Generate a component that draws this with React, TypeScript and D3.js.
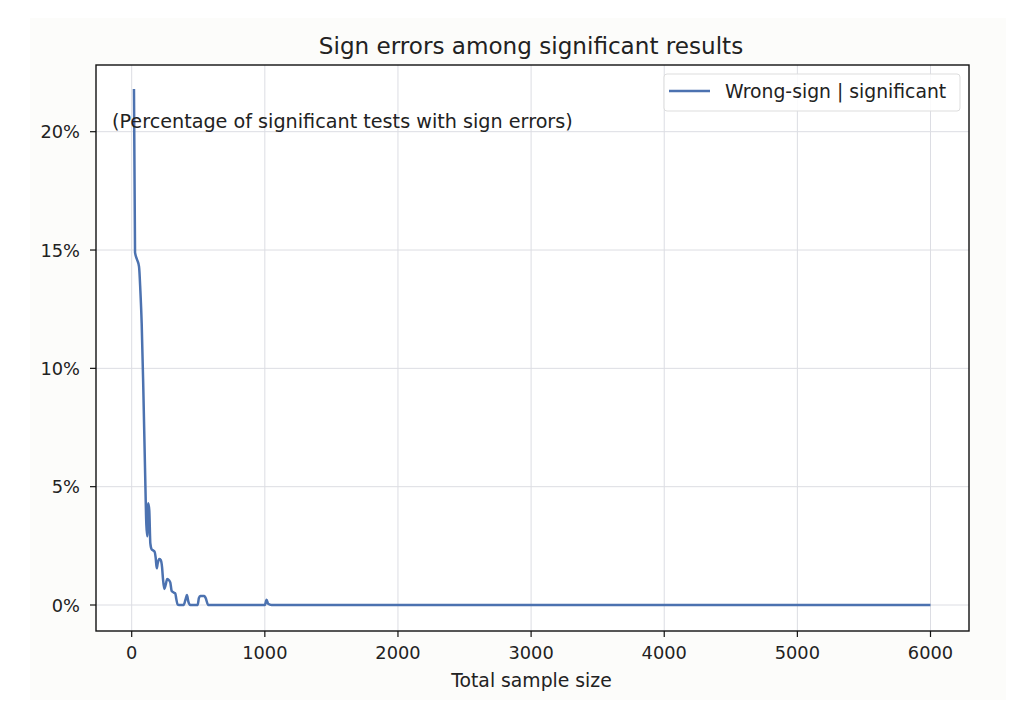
import * as d3 from 'd3';

// Total sample size (x) and share of significant tests with wrong sign (%)
const sampleSizes = [
  17, 25, 40, 55, 65, 75, 87, 100, 110, 117, 124, 132, 140, 150, 162, 172, 180, 188, 195, 207,
  218, 228, 235, 245, 255, 267, 280, 290, 300, 310, 317, 327, 335, 345, 355, 370, 390, 405,
  415, 425, 440, 470, 495, 505, 515, 545, 555, 575, 975, 1000, 1013, 1025, 1050, 6000,
];
const wrongSignPct = [
  21.8, 14.9, 14.6, 14.3, 13.3, 11.9, 9.2, 5.8, 3.4, 2.9, 4.3, 4.0, 2.6, 2.35, 2.3, 2.25, 2.0,
  1.55, 1.75, 1.94, 1.9, 1.6, 1.1, 0.68, 0.85, 1.1, 1.05, 0.95, 0.6, 0.55, 0.52, 0.5, 0.25,
  0.02, 0, 0, 0, 0.25, 0.42, 0.15, 0, 0, 0, 0.3, 0.38, 0.38, 0.3, 0, 0, 0, 0.22, 0.05, 0, 0,
];

const xTicks = [0, 1000, 2000, 3000, 4000, 5000, 6000];
const yTicks = [0, 5, 10, 15, 20];

const W = 1034;
const H = 708;
const frame = { left: 96, right: 969, top: 65, bottom: 631 };
const FONT = 'DejaVu Sans, sans-serif';
const LINE_COLOR = '#4c72b0';
const INK = '#222';

export default function App() {
  const x = d3.scaleLinear().domain([0, 6000]).range([131.7, 930.5]);
  const y = d3.scaleLinear().domain([0, 20]).range([605, 131.7]);

  const points = sampleSizes.map((n, i) => [n, wrongSignPct[i]] as [number, number]);
  const line = d3
    .line<[number, number]>()
    .x((d) => x(d[0]))
    .y((d) => y(d[1]))
    .curve(d3.curveMonotoneX);

  return (
    <svg width={W} height={H} style={{ position: 'absolute', left: 0, top: 0 }}>
      <rect x={0} y={0} width={W} height={H} fill="#ffffff" />
      <rect x={30} y={18} width={976} height={682} fill="#fcfcfa" />
      <rect
        x={frame.left}
        y={frame.top}
        width={frame.right - frame.left}
        height={frame.bottom - frame.top}
        fill="#ffffff"
      />

      {/* grid */}
      {xTicks.map((t) => (
        <line key={`gx${t}`} x1={x(t)} x2={x(t)} y1={frame.top} y2={frame.bottom} stroke="#dcdde3" strokeWidth={1} />
      ))}
      {yTicks.map((t) => (
        <line key={`gy${t}`} x1={frame.left} x2={frame.right} y1={y(t)} y2={y(t)} stroke="#dcdde3" strokeWidth={1} />
      ))}

      <path d={line(points) ?? ''} fill="none" stroke={LINE_COLOR} strokeWidth={2.5} strokeLinejoin="round" />

      {/* frame */}
      <rect
        x={frame.left}
        y={frame.top}
        width={frame.right - frame.left}
        height={frame.bottom - frame.top}
        fill="none"
        stroke="#111"
        strokeWidth={1.4}
      />

      {/* x axis */}
      {xTicks.map((t) => (
        <g key={`xt${t}`}>
          <line x1={x(t)} x2={x(t)} y1={frame.bottom} y2={frame.bottom + 6} stroke="#111" strokeWidth={1.2} />
          <text
            x={x(t)}
            y={652}
            textAnchor="middle"
            dominantBaseline="central"
            fontFamily={FONT}
            fontSize={17.8}
            fill={INK}
          >
            {t}
          </text>
        </g>
      ))}
      <text
        x={531.5}
        y={680}
        textAnchor="middle"
        dominantBaseline="central"
        fontFamily={FONT}
        fontSize={18.8}
        fill={INK}
      >
        Total sample size
      </text>

      {/* y axis */}
      {yTicks.map((t) => (
        <g key={`yt${t}`}>
          <line x1={frame.left - 6} x2={frame.left} y1={y(t)} y2={y(t)} stroke="#111" strokeWidth={1.2} />
          <text
            x={frame.left - 16}
            y={y(t)}
            textAnchor="end"
            dominantBaseline="central"
            fontFamily={FONT}
            fontSize={17.8}
            fill={INK}
          >
            {`${t}%`}
          </text>
        </g>
      ))}

      <text x={531} y={46} textAnchor="middle" dominantBaseline="central" fontFamily={FONT} fontSize={23.1} fill={INK}>
        Sign errors among significant results
      </text>

      <text x={112} y={121} dominantBaseline="central" fontFamily={FONT} fontSize={19.2} fill={INK}>
        (Percentage of significant tests with sign errors)
      </text>

      {/* legend */}
      <rect x={664} y={74} width={296} height={37} rx={3} fill="#ffffff" fillOpacity={0.85} stroke="#dddddd" />
      <line x1={669} x2={710} y1={91} y2={91} stroke={LINE_COLOR} strokeWidth={2.5} />
      <text x={725} y={91.5} dominantBaseline="central" fontFamily={FONT} fontSize={18.8} fill={INK}>
        Wrong-sign | significant
      </text>
    </svg>
  );
}
